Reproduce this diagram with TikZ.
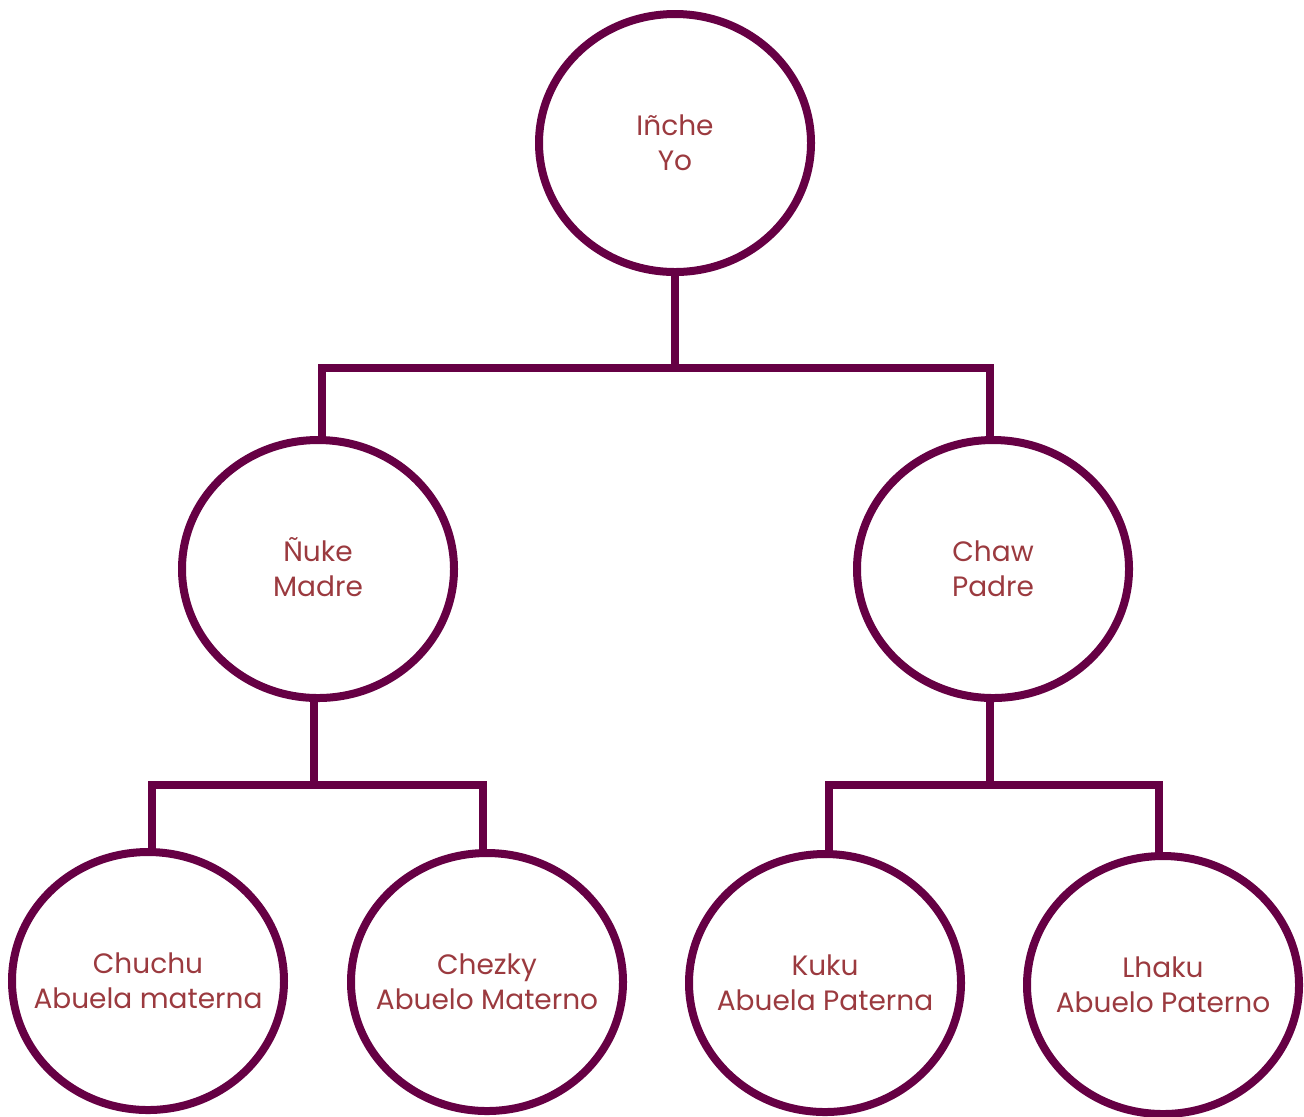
\documentclass[tikz,border=0pt]{standalone}
\usepackage{fontspec}
\usetikzlibrary{shapes.geometric}
\setmainfont{Poppins}
\definecolor{linec}{HTML}{660044}
\definecolor{textc}{HTML}{9B3A3F}
\newcommand\twolines[2]{\makebox[0pt]{#1}\\\makebox[0pt]{#2}}
\begin{document}
\begin{tikzpicture}[x=0.5pt,y=-0.5pt,
  person/.style={draw=linec,line width=4pt,ellipse,minimum width=136pt,minimum height=129pt,inner sep=0pt,
    text=textc,font=\fontsize{14}{17.5}\selectfont,align=center},
  link/.style={draw=linec,line width=4pt,line join=miter}]
\useasboundingbox (0,0) rectangle (1304,1116);
\path[fill=white] (0,0) rectangle (1304,1116);
\node[person] (yo) at (675,143) {\twolines{Iñche}{Yo}};
\node[person] (madre) at (318,569) {\twolines{\smash{Ñ}uke}{Madre}};
\node[person] (padre) at (993,569) {\twolines{Chaw}{Padre}};
\node[person] (chuchu) at (148,981) {\twolines{Chuchu}{Abuela materna}};
\node[person] (chezky) at (487,982) {\twolines{Chezky}{Abuelo Materno}};
\node[person] (kuku) at (825,983) {\twolines{Kuku}{Abuela Paterna}};
\node[person] (lhaku) at (1163,985) {\twolines{Lhaku}{Abuelo Paterno}};
\coordinate (j1) at (675,368);
\coordinate (j2) at (314,785);
\coordinate (j3) at (990,785);
\draw[link] (yo.south) -- (j1);
\draw[link] (madre.north) ++(4,2) |- (j1) -| ([xshift=-1.5pt,yshift=-1pt]padre.north);
\draw[link] (madre.south) ++(-4,0) -- (j2);
\draw[link] (chuchu.north) ++(4,2) |- (j2) -| ([xshift=-2pt,yshift=-1pt]chezky.north);
\draw[link] (padre.south) ++(-3,0) -- (j3);
\draw[link] (kuku.north) ++(4,2) |- (j3) -| ([xshift=-2pt,yshift=-1pt]lhaku.north);
\end{tikzpicture}
\end{document}
